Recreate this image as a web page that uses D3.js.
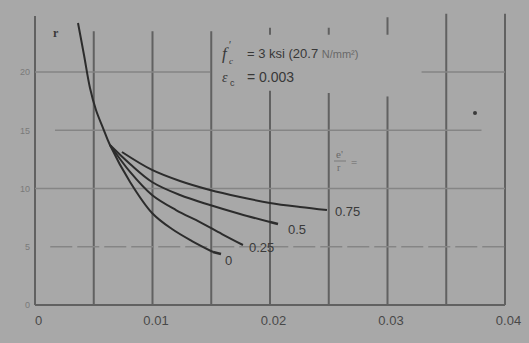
<!DOCTYPE html>
<html><head><meta charset="utf-8">
<script src="https://cdn.jsdelivr.net/npm/d3@7"></script>
<style>html,body{margin:0;padding:0;background:#a8a8a8;}svg{display:block;}</style>
</head><body>
<script>
// ---- data ----
const xTicks = [0, 0.01, 0.02, 0.03, 0.04];
const xTickLabels = ["0", "0.01", "0.02", "0.03", "0.04"];
const xGrid = [0.005, 0.01, 0.015, 0.02, 0.025, 0.03, 0.035, 0.04];
const yTicks = [0, 5, 10, 15, 20];
const seriesNames = ["0", "0.25", "0.5", "0.75"];
const curve0X   = [0.00366, 0.00417, 0.00468, 0.00519, 0.00579, 0.00638, 0.00809, 0.00996, 0.01166, 0.01336, 0.01515];
const curve0Y   = [24.21, 21.46, 18.63, 16.74, 15.19, 13.73, 10.56, 7.90, 6.52, 5.49, 4.55];
const curve25X  = [0.00638, 0.00809, 0.00996, 0.01200, 0.01404, 0.01591, 0.01770];
const curve25Y  = [13.73, 11.42, 9.44, 8.15, 7.12, 6.09, 5.15];
const curve50X  = [0.00638, 0.00809, 0.00996, 0.01234, 0.01489, 0.01745, 0.02000];
const curve50Y  = [13.73, 12.10, 10.56, 9.44, 8.58, 7.81, 7.12];
const curve75X  = [0.00740, 0.00996, 0.01234, 0.01489, 0.01745, 0.02000, 0.02255, 0.02485];
const curve75Y  = [13.13, 11.59, 10.64, 9.87, 9.27, 8.76, 8.41, 8.15];

const W = 529, H = 343;
const svg = d3.select("body").append("svg").attr("width", W).attr("height", H);
svg.append("rect").attr("width", W).attr("height", H).attr("fill", "#a8a8a8");

const x = d3.scaleLinear().domain([0, 0.04]).range([35, 505]);
const y = d3.scaleLinear().domain([0, 20]).range([305, 72]);

const gridCol = "#616161", hCol = "#858585";
// vertical grid lines (some broken by annotation)
const vSegs = {
  0.005: [[23.5, 0]], 0.01: [[23.5, 0]], 0.015: [[23.5, 0]],
  0.02: [[23.8, 23.2], [18.4, 0]], 0.025: [[23.8, 23.2], [18.2, 0]],
  0.03: [[24.7, 23.2], [17.9, 0]], 0.035: [[25.0, 0]], 0.04: [[25.0, 0]]
};
xGrid.forEach(v => {
  vSegs[v].forEach(s => {
    svg.append("line").attr("x1", x(v)).attr("x2", x(v))
      .attr("y1", y(s[0])).attr("y2", y(s[1]))
      .attr("stroke", gridCol).attr("stroke-width", 2);
  });
});
// left axis
svg.append("line").attr("x1", x(0)).attr("x2", x(0)).attr("y1", y(24.8)).attr("y2", y(0))
  .attr("stroke", gridCol).attr("stroke-width", 2);
// horizontal grid lines
const hSegs = {
  20: [[0, 0.0149], [0.0329, 0.04]],
  15: [[0.0017, 0.0380]],
  10: [[0, 0.04]],
  5:  [[0.0013, 0.04]],
  0:  [[0, 0.04]]
};
yTicks.forEach(v => {
  hSegs[v].forEach(s => {
    svg.append("line").attr("x1", x(s[0])).attr("x2", x(s[1]))
      .attr("y1", y(v)).attr("y2", y(v))
      .attr("stroke", v === 0 ? gridCol : hCol)
      .attr("stroke-width", v === 0 ? 2 : 1.6)
      .attr("stroke-dasharray", v === 5 ? "22,5" : null);
  });
});

// tick labels
const ax = svg.append("g").attr("transform", `translate(0,${y(0)})`)
  .call(d3.axisBottom(x).tickValues(xTicks).tickFormat((d, i) => xTickLabels[i]).tickSize(0).tickPadding(11));
ax.select(".domain").remove();
ax.selectAll("text").attr("font-family", "Liberation Sans, Arial, sans-serif").attr("font-size", 13)
  .attr("fill", "#484848").attr("dx", 3);
const ay = svg.append("g").attr("transform", `translate(${x(0)},0)`)
  .call(d3.axisLeft(y).tickValues(yTicks).tickSize(0).tickPadding(5));
ay.select(".domain").remove();
ay.selectAll("text").attr("font-family", "Liberation Sans, Arial, sans-serif").attr("font-size", 9)
  .attr("fill", "#7a7a7a");

// curves
const line = d3.line().x(d => x(d[0])).y(d => y(d[1])).curve(d3.curveCatmullRom.alpha(0.5));
const series = [
  [curve0X, curve0Y], [curve25X, curve25Y], [curve50X, curve50Y], [curve75X, curve75Y]
];
series.forEach(([xs, ys]) => {
  svg.append("path").datum(xs.map((v, i) => [v, ys[i]])).attr("d", line)
    .attr("fill", "none").attr("stroke", "#2c2c2c").attr("stroke-width", 2);
});
// curve-end leaders and labels
const labelOffsets = [[12, 9], [6, 3], [18, 8], [8, 2]];
series.forEach(([xs, ys], i) => {
  const ex = x(xs[xs.length - 1]), ey = y(ys[ys.length - 1]);
  if (i === 0 || i === 2) {
    svg.append("line").attr("x1", ex).attr("y1", ey).attr("x2", ex + 8).attr("y2", ey + 2)
      .attr("stroke", "#2c2c2c").attr("stroke-width", 2.5);
  }
  svg.append("text").attr("x", ex + labelOffsets[i][0]).attr("y", ey + labelOffsets[i][1] + 4)
    .attr("font-family", "Liberation Sans, Arial, sans-serif").attr("font-size", 13)
    .attr("fill", "#3a3a3a").text(seriesNames[i]);
});

// fraction legend label
const lg = svg.append("g").attr("font-family", "Liberation Serif, serif").attr("fill", "#6a6a6a");
lg.append("text").attr("x", 336).attr("y", 158).attr("font-size", 11).text("e'");
lg.append("line").attr("x1", 334).attr("x2", 346).attr("y1", 161).attr("y2", 161).attr("stroke", "#7a7a7a");
lg.append("text").attr("x", 337).attr("y", 171).attr("font-size", 10).text("r");
lg.append("text").attr("x", 351).attr("y", 166).attr("font-size", 11).text("=");

// y axis letter
svg.append("text").attr("x", 53).attr("y", 37).attr("font-family", "Liberation Serif, serif")
  .attr("font-size", 12).attr("font-weight", "bold").attr("fill", "#3a3a3a").text("r");

// annotation
const an = svg.append("g").attr("font-family", "Liberation Sans, Arial, sans-serif").attr("fill", "#383838");
an.append("text").attr("x", 222).attr("y", 59).attr("font-family", "Liberation Serif, serif")
  .attr("font-style", "italic").attr("font-size", 17).text("f");
an.append("text").attr("x", 229).attr("y", 49).attr("font-size", 10).text("′");
an.append("text").attr("x", 229).attr("y", 64).attr("font-family", "Liberation Serif, serif")
  .attr("font-style", "italic").attr("font-size", 9).text("c");
const t1 = an.append("text").attr("x", 247).attr("y", 58).attr("font-size", 13);
t1.append("tspan").text("= 3 ksi (20.7 ");
t1.append("tspan").attr("fill", "#686868").attr("font-size", 11).text("N/mm²)");
an.append("text").attr("x", 222).attr("y", 82).attr("font-family", "Liberation Serif, serif")
  .attr("font-style", "italic").attr("font-size", 14).text("ε");
an.append("text").attr("x", 230).attr("y", 86).attr("font-size", 9).text("c");
an.append("text").attr("x", 247).attr("y", 82).attr("font-size", 14).text("= 0.003");

// speck
svg.append("circle").attr("cx", 475).attr("cy", 113).attr("r", 2).attr("fill", "#3a3a3a");
</script>
</body></html>
